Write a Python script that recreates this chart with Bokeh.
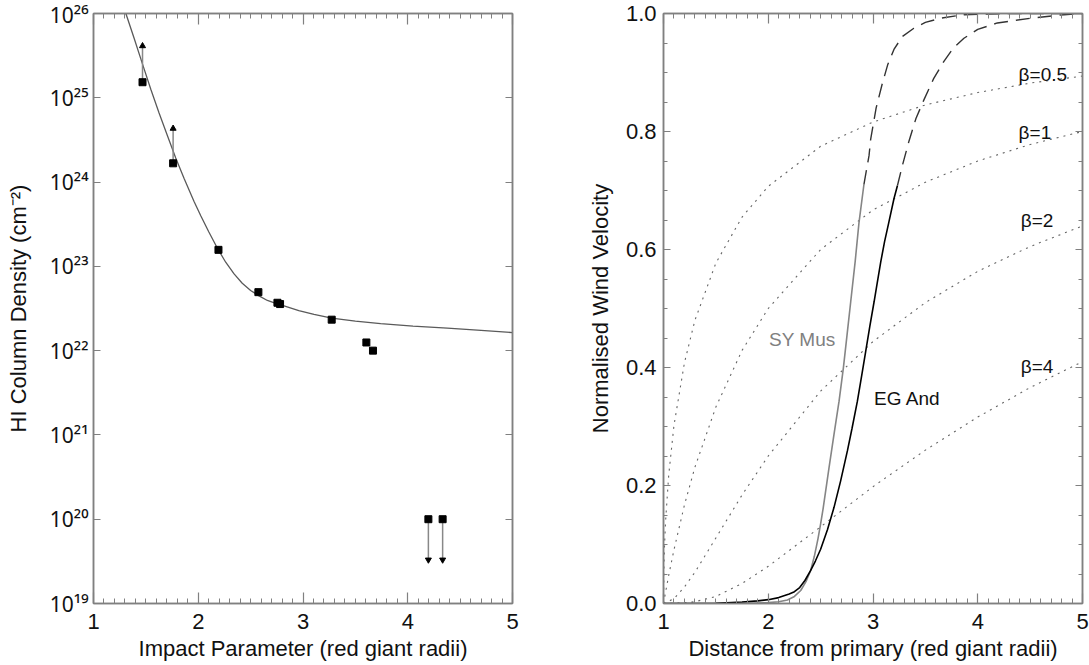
from bokeh.plotting import figure
from bokeh.layouts import row
from bokeh.models import FixedTicker, LinearAxis, LogAxis, PrintfTickFormatter, CustomJSTickFormatter
from bokeh.embed import file_html
from bokeh.resources import INLINE
from bokeh.core.properties import value

# ---------------- left panel data ----------------
nh_x = [1.468, 1.760, 2.193, 2.574, 2.756, 2.781, 3.274, 3.605, 3.668]
nh_y = [1.53e25, 1.67e24, 1.57e23, 4.94e22, 3.70e22, 3.57e22, 2.33e22, 1.25e22, 1.0e22]

lower_x = [1.468, 1.760]
lower_from = [1.53e25, 1.67e24]
lower_to = [4.12e25, 4.32e24]

upper_x = [4.197, 4.333]
upper_from = [1.0e20, 1.0e20]
upper_to = [3.3e19, 3.3e19]

fit_x = [1.309, 1.387, 1.468, 1.547, 1.626, 1.706, 1.785, 1.865, 1.960, 2.024,
         2.10, 2.183, 2.262, 2.342, 2.42, 2.50, 2.58, 2.66, 2.74, 2.819,
         2.96, 3.105, 3.274, 3.50, 3.741, 4.05, 4.378, 4.7, 5.0]
fit_y = [1.0e26, 5.13e25, 2.51e25, 1.26e25, 6.61e24, 3.55e24, 1.93e24, 1.10e24, 5.89e23, 3.98e23,
         2.57e23, 1.64e23, 1.12e23, 8.13e22, 6.31e22, 5.18e22, 4.47e22, 3.94e22, 3.63e22, 3.39e22,
         2.99e22, 2.69e22, 2.43e22, 2.24e22, 2.09e22, 1.95e22, 1.85e22, 1.74e22, 1.64e22]

log_ticks = [1e19, 1e20, 1e21, 1e22, 1e23, 1e24, 1e25, 1e26]
log_labels = ["10¹⁹", "10²⁰", "10²¹", "10²²", "10²³", "10²⁴", "10²⁵", "10²⁶"]

x_ticks = [1, 2, 3, 4, 5]
x_minor = [1 + i / 10 for i in range(41)]

# ---------------- right panel data ----------------
b05_x = [1.0, 1.005, 1.01, 1.02, 1.05, 1.1, 1.2, 1.3, 1.5, 1.75, 2.0, 2.5, 3.0, 3.5, 4.0, 4.5, 5.0]
b05_y = [0.0, 0.070, 0.099, 0.140, 0.218, 0.302, 0.408, 0.480, 0.577, 0.655, 0.707, 0.775, 0.816, 0.845, 0.866, 0.882, 0.894]

b1_x = [1.0, 1.05, 1.1, 1.2, 1.3, 1.5, 1.75, 2.0, 2.5, 3.0, 3.5, 4.0, 4.5, 5.0]
b1_y = [0.0, 0.048, 0.091, 0.167, 0.231, 0.333, 0.429, 0.500, 0.600, 0.667, 0.714, 0.750, 0.778, 0.800]

b2_x = [1.0, 1.1, 1.2, 1.3, 1.5, 1.75, 2.0, 2.5, 3.0, 3.5, 4.0, 4.5, 5.0]
b2_y = [0.0, 0.008, 0.028, 0.053, 0.111, 0.184, 0.250, 0.360, 0.444, 0.510, 0.563, 0.605, 0.640]

b4_x = [1.0, 1.2, 1.3, 1.5, 1.75, 2.0, 2.5, 3.0, 3.5, 4.0, 4.5, 5.0]
b4_y = [0.0, 0.001, 0.003, 0.012, 0.034, 0.063, 0.130, 0.198, 0.260, 0.316, 0.366, 0.410]

sy_x = [1.0, 1.8, 2.0, 2.1, 2.183, 2.25, 2.31, 2.36, 2.405, 2.44, 2.475, 2.50, 2.523, 2.55,
        2.58, 2.628, 2.676, 2.717, 2.752, 2.787, 2.83, 2.866, 2.914]
sy_y = [0.0, 0.0004, 0.0015, 0.003, 0.006, 0.012, 0.022, 0.037, 0.056, 0.080, 0.110, 0.135, 0.160, 0.193,
        0.230, 0.287, 0.343, 0.399, 0.455, 0.511, 0.580, 0.645, 0.711]
sy_dash_x = [2.914, 2.962, 2.978, 3.03, 3.09, 3.14, 3.20, 3.28, 3.39, 3.50, 3.646, 3.868, 4.3, 5.0]
sy_dash_y = [0.711, 0.759, 0.787, 0.840, 0.882, 0.913, 0.939, 0.961, 0.975, 0.985, 0.992, 0.998, 1.0, 1.0]

eg_x = [1.0, 1.5, 1.75, 1.9, 2.0, 2.1, 2.2, 2.25, 2.3, 2.35, 2.405, 2.45, 2.5, 2.565, 2.628, 2.69,
        2.756, 2.80, 2.851, 2.89, 2.93, 2.97, 3.01, 3.04, 3.074, 3.11, 3.15, 3.20, 3.233]
eg_y = [0.0, 0.0005, 0.0025, 0.0045, 0.0065, 0.010, 0.016, 0.020, 0.027, 0.039, 0.056, 0.072, 0.092, 0.125, 0.163, 0.207,
        0.259, 0.297, 0.343, 0.384, 0.427, 0.470, 0.511, 0.543, 0.579, 0.613, 0.645, 0.686, 0.708]
eg_dash_x = [3.233, 3.28, 3.344, 3.41, 3.487, 3.58, 3.677, 3.77, 3.868, 4.0, 4.187, 4.505, 4.823, 5.0]
eg_dash_y = [0.708, 0.742, 0.784, 0.822, 0.854, 0.890, 0.919, 0.942, 0.958, 0.973, 0.984, 0.992, 0.998, 1.0]

v_ticks = [0.0, 0.2, 0.4, 0.6, 0.8, 1.0]
v_minor = [i / 20 for i in range(21)]

FONT = "Liberation Sans"
FRAME = "#808080"
TICK_FS = "22px"
LABEL_FS = "22px"
EMPTY = CustomJSTickFormatter(code="return ''")


def style_axis(ax, show, major_len, minor_len):
    ax.axis_line_color = FRAME
    ax.axis_line_width = 1.5
    ax.major_tick_in = major_len
    ax.major_tick_out = 0
    ax.minor_tick_in = minor_len
    ax.minor_tick_out = 0
    ax.major_tick_line_color = FRAME
    ax.minor_tick_line_color = FRAME if minor_len > 0 else None
    ax.major_tick_line_width = 1.2
    ax.minor_tick_line_width = 1.0
    ax.major_label_text_font = FONT
    ax.major_label_text_font_size = TICK_FS
    ax.major_label_text_color = "#111111"
    ax.axis_label_text_font = FONT
    ax.axis_label_text_font_style = "normal"
    ax.axis_label_text_font_size = LABEL_FS
    ax.axis_label_text_color = "#111111"
    if not show:
        ax.formatter = EMPTY
        ax.major_label_standoff = 0


# ---------------- left figure ----------------
p1 = figure(width=545, height=665, x_range=(1, 5), y_range=(1e19, 1e26), y_axis_type="log",
            output_backend="svg", toolbar_location=None,
            min_border_left=93, min_border_right=33, min_border_top=13, min_border_bottom=62)
p1.xgrid.visible = False
p1.ygrid.visible = False
p1.outline_line_color = FRAME
p1.outline_line_width = 1.5

p1.xaxis.ticker = FixedTicker(ticks=x_ticks, minor_ticks=x_minor)
p1.yaxis.ticker = FixedTicker(ticks=log_ticks, minor_ticks=[])
p1.yaxis.major_label_overrides = {t: l for t, l in zip(log_ticks, log_labels)}
style_axis(p1.xaxis[0], True, 11, 5)
style_axis(p1.yaxis[0], True, 7, 0)
p1.yaxis.major_label_text_font = "Noto Sans"
p1.yaxis.major_label_text_font_size = "21px"
p1.xaxis.axis_label = "Impact Parameter (red giant radii)"
p1.yaxis.axis_label = "HI Column Density (cm⁻²)"
p1.xaxis.major_label_standoff = 10
p1.xaxis.axis_label_standoff = 4
p1.yaxis.major_label_standoff = 5
p1.yaxis.axis_label_standoff = 16

top1 = LinearAxis(ticker=FixedTicker(ticks=x_ticks, minor_ticks=x_minor))
style_axis(top1, False, 11, 5)
p1.add_layout(top1, "above")
right1 = LogAxis(ticker=FixedTicker(ticks=log_ticks, minor_ticks=[]))
style_axis(right1, False, 7, 0)
p1.add_layout(right1, "right")

p1.line(fit_x, fit_y, line_color="#5a5a5a", line_width=1.3)
p1.segment(x0=lower_x, y0=lower_from, x1=lower_x, y1=lower_to, line_color="#888888", line_width=1.5)
p1.scatter(lower_x, lower_to, marker="triangle", size=6, fill_color="black", line_color="black")
p1.segment(x0=upper_x, y0=upper_from, x1=upper_x, y1=upper_to, line_color="#888888", line_width=1.5)
p1.scatter(upper_x, upper_to, marker="inverted_triangle", size=6, fill_color="black", line_color="black")
p1.scatter(nh_x, nh_y, marker="square", size=7, fill_color="black", line_color="black")
p1.scatter(upper_x, upper_from, marker="square", size=7, fill_color="black", line_color="black")

# ---------------- right figure ----------------
p2 = figure(width=544, height=665, x_range=(1, 5), y_range=(0, 1),
            output_backend="svg", toolbar_location=None,
            min_border_left=118, min_border_right=7, min_border_top=13, min_border_bottom=62)
p2.xgrid.visible = False
p2.ygrid.visible = False
p2.outline_line_color = FRAME
p2.outline_line_width = 1.5

p2.xaxis.ticker = FixedTicker(ticks=x_ticks, minor_ticks=x_minor)
p2.yaxis.ticker = FixedTicker(ticks=v_ticks, minor_ticks=v_minor)
p2.yaxis.formatter = PrintfTickFormatter(format="%.1f")
style_axis(p2.xaxis[0], True, 10, 5)
style_axis(p2.yaxis[0], True, 7, 4)
p2.xaxis.axis_label = "Distance from primary (red giant radii)"
p2.yaxis.axis_label = "Normalised Wind Velocity"
p2.xaxis.major_label_standoff = 10
p2.xaxis.axis_label_standoff = 4
p2.yaxis.major_label_standoff = 7
p2.yaxis.axis_label_standoff = 10

top2 = LinearAxis(ticker=FixedTicker(ticks=x_ticks, minor_ticks=x_minor))
style_axis(top2, False, 10, 5)
p2.add_layout(top2, "above")
right2 = LinearAxis(ticker=FixedTicker(ticks=v_ticks, minor_ticks=v_minor))
style_axis(right2, False, 7, 4)
p2.add_layout(right2, "right")

for bx, by in [(b05_x, b05_y), (b1_x, b1_y), (b2_x, b2_y), (b4_x, b4_y)]:
    p2.line(bx, by, line_color="#666666", line_width=1.1, line_dash="2 5")

p2.line(sy_x, sy_y, line_color="#858585", line_width=1.6)
p2.line(eg_x, eg_y, line_color="black", line_width=1.6)
p2.line(sy_dash_x, sy_dash_y, line_color="#333333", line_width=1.4, line_dash="14 8")
p2.line(eg_dash_x, eg_dash_y, line_color="#333333", line_width=1.4, line_dash="14 8")

p2.text(x=[4.39, 4.39, 4.41, 4.41], y=[0.896, 0.798, 0.650, 0.402],
        text=["β=0.5", "β=1", "β=2", "β=4"],
        text_font=value(FONT), text_font_size="19px", text_color="#111111",
        text_baseline="alphabetic")
p2.text(x=[2.008], y=[0.447], text=["SY Mus"], text_font=value(FONT),
        text_font_size="19px", text_color="#808080", text_baseline="alphabetic")
p2.text(x=[3.01], y=[0.348], text=["EG And"], text_font=value(FONT),
        text_font_size="19px", text_color="#111111", text_baseline="alphabetic")

layout = row(p1, p2)
open("out.html", "w").write(file_html(layout, INLINE))
